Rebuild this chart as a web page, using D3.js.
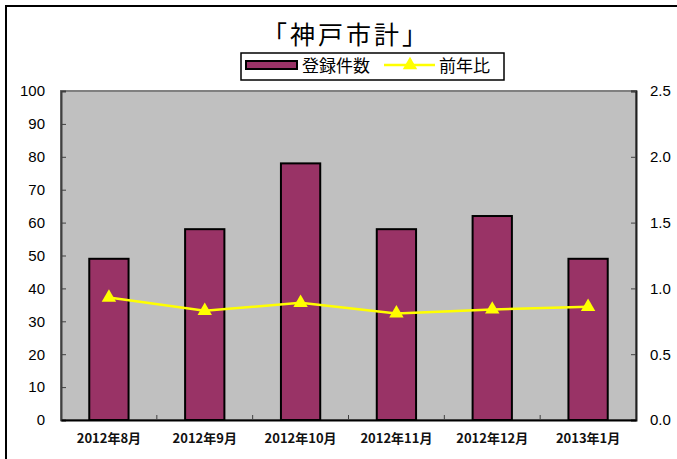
<!DOCTYPE html>
<html>
<head>
<meta charset="utf-8">
<script src="https://cdn.jsdelivr.net/npm/d3@7"></script>
<style>
  body { margin: 0; background: #fff; }
  text { font-family: "Liberation Sans", Arial, "Noto Sans CJK JP", sans-serif; }
  .jp { font-family: "Noto Sans CJK JP", sans-serif; }
</style>
</head>
<body>
<div id="chart"></div>
<script>
// data
var months = ["2012年8月", "2012年9月", "2012年10月", "2012年11月", "2012年12月", "2013年1月"];
var counts = [49, 58, 78, 58, 62, 49];
var ratio = [0.93, 0.83, 0.89, 0.81, 0.84, 0.86];
var leftTicks = [0, 10, 20, 30, 40, 50, 60, 70, 80, 90, 100];
var rightTicks = [0, 0.5, 1.0, 1.5, 2.0, 2.5];

var svgWidth = 677, svgHeight = 459;
var plot = { left: 61, right: 636, top: 91, bottom: 420 };

var svg = d3.select("#chart").append("svg")
    .attr("width", svgWidth)
    .attr("height", svgHeight);

// outer frame
svg.append("rect")
    .attr("x", 6).attr("y", 6)
    .attr("width", 700).attr("height", 500)
    .attr("fill", "#fff")
    .attr("stroke", "#000")
    .attr("stroke-width", 2);

var x = d3.scaleBand()
    .domain(months)
    .range([plot.left, plot.right])
    .padding(0);

var yL = d3.scaleLinear().domain([0, 100]).range([plot.bottom, plot.top]);
var yR = d3.scaleLinear().domain([0, 2.5]).range([plot.bottom, plot.top]);

// plot area
svg.append("rect")
    .attr("x", plot.left).attr("y", plot.top)
    .attr("width", plot.right - plot.left)
    .attr("height", plot.bottom - plot.top)
    .attr("fill", "#c0c0c0")
    .attr("stroke", "#808080")
    .attr("stroke-width", 2);

// bars
var barW = x.bandwidth() * 0.41;
svg.selectAll(".bar")
    .data(counts)
    .enter()
    .append("rect")
    .attr("class", "bar")
    .attr("x", (d, i) => x(months[i]) + x.bandwidth() / 2 - barW / 2)
    .attr("y", d => yL(d))
    .attr("width", barW)
    .attr("height", d => yL(0) - yL(d))
    .attr("fill", "#993366")
    .attr("stroke", "#000")
    .attr("stroke-width", 2);

// left axis
var leftAxis = svg.append("g")
    .attr("transform", "translate(" + plot.left + ",0)")
    .call(d3.axisLeft(yL).tickValues(leftTicks).tickSize(-5).tickPadding(16));
leftAxis.select(".domain").attr("stroke", "#404040").attr("stroke-width", 2);
leftAxis.selectAll(".tick line").attr("stroke", "#404040");
leftAxis.selectAll("text").attr("font-size", 15).attr("fill", "#000");

// right axis
var rightAxis = svg.append("g")
    .attr("transform", "translate(" + plot.right + ",0)")
    .call(d3.axisRight(yR).tickValues(rightTicks).tickFormat(d3.format(".1f")).tickSize(-5).tickPadding(14));
rightAxis.select(".domain").attr("stroke", "#202020").attr("stroke-width", 2);
rightAxis.selectAll(".tick line").attr("stroke", "#404040");
rightAxis.selectAll("text").attr("font-size", 15).attr("fill", "#000");

// bottom axis: labels at band centres, ticks at band boundaries
var bottomAxis = svg.append("g")
    .attr("transform", "translate(0," + plot.bottom + ")")
    .call(d3.axisBottom(x).tickSize(0).tickPadding(14));
bottomAxis.select(".domain").attr("stroke", "#000").attr("stroke-width", 2);
bottomAxis.selectAll("text")
    .attr("class", "jp")
    .attr("font-size", 13)
    .attr("font-weight", "bold")
    .attr("fill", "#111");

var bounds = d3.range(1, months.length).map(i => plot.left + i * x.step());
svg.selectAll(".ctick")
    .data(bounds)
    .enter()
    .append("line")
    .attr("x1", d => d).attr("x2", d => d)
    .attr("y1", plot.bottom).attr("y2", plot.bottom - 5)
    .attr("stroke", "#404040");

// ratio line
var line = d3.line()
    .x((d, i) => x(months[i]) + x.bandwidth() / 2)
    .y(d => yR(d));

svg.append("path")
    .datum(ratio)
    .attr("d", line)
    .attr("fill", "none")
    .attr("stroke", "#ffff00")
    .attr("stroke-width", 2.5);

var tri = d3.symbol().type(d3.symbolTriangle).size(90);
svg.selectAll(".pt")
    .data(ratio)
    .enter()
    .append("path")
    .attr("d", tri)
    .attr("transform", (d, i) => "translate(" + (x(months[i]) + x.bandwidth() / 2) + "," + yR(d) + ")")
    .attr("fill", "#ffff00");

// title
svg.append("text")
    .attr("class", "jp")
    .attr("x", 346)
    .attr("y", 44)
    .attr("text-anchor", "middle")
    .attr("font-size", 25)
    .attr("letter-spacing", 3)
    .text("「神戸市計」");

// legend
var lg = svg.append("g");
lg.append("rect")
    .attr("x", 241).attr("y", 53)
    .attr("width", 263).attr("height", 27)
    .attr("fill", "#fff")
    .attr("stroke", "#000")
    .attr("stroke-width", 1.5);
lg.append("rect")
    .attr("x", 246).attr("y", 61)
    .attr("width", 51).attr("height", 8)
    .attr("fill", "#993366")
    .attr("stroke", "#000")
    .attr("stroke-width", 2);
lg.append("text")
    .attr("class", "jp")
    .attr("x", 302).attr("y", 72)
    .attr("font-size", 17)
    .text("登録件数");
lg.append("line")
    .attr("x1", 384).attr("x2", 435)
    .attr("y1", 65).attr("y2", 65)
    .attr("stroke", "#ffff00")
    .attr("stroke-width", 2.5);
lg.append("path")
    .attr("d", tri)
    .attr("transform", "translate(410,65)")
    .attr("fill", "#ffff00");
lg.append("text")
    .attr("class", "jp")
    .attr("x", 439).attr("y", 72)
    .attr("font-size", 17)
    .text("前年比");
</script>
</body>
</html>
